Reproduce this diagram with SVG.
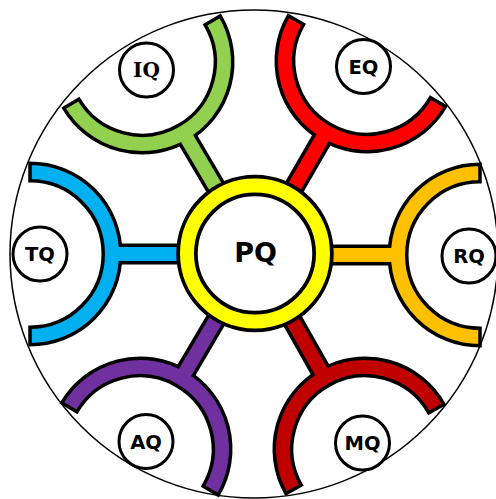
<svg xmlns="http://www.w3.org/2000/svg" width="496" height="499" viewBox="0 0 496 499">
  <defs>
    <style>
      .arc { stroke: #000; stroke-width: 3.5; stroke-linejoin: miter; }
      .barout { stroke: #000; stroke-width: 21; }
      .lbl { fill: #fff; stroke: #000; stroke-width: 3; }
      .t { font-family: "DejaVu Sans", "Liberation Sans", sans-serif; font-weight: bold; font-size: 19.5px; text-anchor: middle; fill: #000; }
      .ts { font-family: "DejaVu Serif", "Liberation Serif", serif; font-weight: bold; font-size: 20px; text-anchor: middle; fill: #000; }
    </style>
    <path id="half" d="M 0,-90.75 A 90.75 90.75 0 0 1 0,90.75 L 0,73.25 A 73.25 73.25 0 0 0 0,-73.25 Z"/>
  </defs>
  <rect width="496" height="499" fill="#fff"/>
  <circle cx="254" cy="254" r="244" fill="none" stroke="#000" stroke-width="1.5"/>

  <g id="connectors">
    <g transform="translate(30,254)">
      <line class="barout" x1="88" y1="0" x2="159" y2="0"/>
    </g>
    <g transform="translate(480,255) rotate(180)">
      <line class="barout" x1="88" y1="0" x2="159" y2="0"/>
    </g>
    <g transform="translate(142,62) rotate(59.5)">
      <line class="barout" x1="88" y1="0" x2="159" y2="0"/>
    </g>
    <g transform="translate(367,61) rotate(120)">
      <line class="barout" x1="88" y1="0" x2="159" y2="0"/>
    </g>
    <g transform="translate(140,449) rotate(-59.5)">
      <line class="barout" x1="88" y1="0" x2="159" y2="0"/>
    </g>
    <g transform="translate(365,449) rotate(-119.5)">
      <line class="barout" x1="88" y1="0" x2="159" y2="0"/>
    </g>
  </g>

  <g id="TQ">
    <g transform="translate(30,254)">
      <use href="#half" class="arc" fill="#00B0F0"/>
      <line x1="84" y1="0" x2="159" y2="0" stroke="#00B0F0" stroke-width="14"/>
    </g>
    <circle class="lbl" cx="40" cy="254" r="27"/>
    <text class="t" x="40" y="261">TQ</text>
  </g>

  <g id="RQ">
    <g transform="translate(480,255) rotate(180)">
      <use href="#half" class="arc" fill="#FFC000"/>
      <line x1="84" y1="0" x2="159" y2="0" stroke="#FFC000" stroke-width="14"/>
    </g>
    <circle class="lbl" cx="469" cy="256" r="27"/>
    <text class="t" x="469" y="263">RQ</text>
  </g>

  <g id="IQ">
    <g transform="translate(142,62) rotate(59.5)">
      <use href="#half" class="arc" fill="#92D050"/>
      <line x1="84" y1="0" x2="159" y2="0" stroke="#92D050" stroke-width="14"/>
    </g>
    <circle class="lbl" cx="146.5" cy="70" r="27"/>
    <text class="ts" x="146.5" y="77">IQ</text>
  </g>

  <g id="EQ">
    <g transform="translate(367,61) rotate(120)">
      <use href="#half" class="arc" fill="#FF0000"/>
      <line x1="84" y1="0" x2="159" y2="0" stroke="#FF0000" stroke-width="14"/>
    </g>
    <circle class="lbl" cx="363.5" cy="66.5" r="27"/>
    <text class="t" x="363.5" y="73.5">EQ</text>
  </g>

  <g id="AQ">
    <g transform="translate(140,449) rotate(-59.5)">
      <use href="#half" class="arc" fill="#7030A0"/>
      <line x1="84" y1="0" x2="159" y2="0" stroke="#7030A0" stroke-width="14"/>
    </g>
    <circle class="lbl" cx="146" cy="441.5" r="27"/>
    <text class="t" x="146" y="448.5">AQ</text>
  </g>

  <g id="MQ">
    <g transform="translate(365,449) rotate(-119.5)">
      <use href="#half" class="arc" fill="#C00000"/>
      <line x1="84" y1="0" x2="159" y2="0" stroke="#C00000" stroke-width="14"/>
    </g>
    <circle class="lbl" cx="362.5" cy="443" r="27"/>
    <text class="t" x="362.5" y="450">MQ</text>
  </g>

  <g id="PQ">
    <circle cx="255" cy="253.5" r="68" fill="#fff" stroke="#000" stroke-width="21.5"/>
    <circle cx="255" cy="253.5" r="68" fill="none" stroke="#FFFF00" stroke-width="14"/>
    <text x="255.5" y="261.5" font-family="DejaVu Sans, Liberation Sans, sans-serif" font-weight="bold" font-size="27" text-anchor="middle" fill="#000">PQ</text>
  </g>
</svg>
